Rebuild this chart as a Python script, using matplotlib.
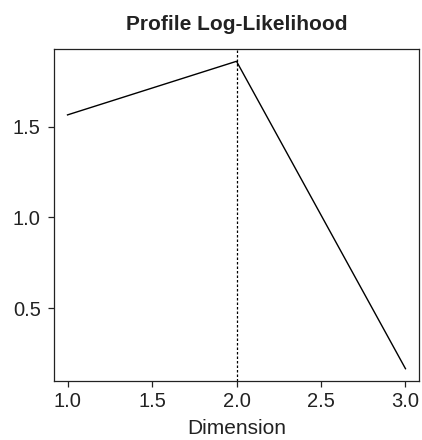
import matplotlib
matplotlib.use("Agg")
import matplotlib.pyplot as plt

# Profile log-likelihood by dimension
dimension = [1.0, 2.0, 3.0]
loglik = [1.564, 1.859, 0.167]
best_dim = 2.0

x_ticks = [1.0, 1.5, 2.0, 2.5, 3.0]
y_ticks = [0.5, 1.0, 1.5]

plt.rcParams['font.family'] = ['Liberation Sans', 'DejaVu Sans']

fig = plt.figure(figsize=(4.22, 4.40), dpi=100)
ax = fig.add_axes([54 / 422, 1 - 381 / 440, (419 - 54) / 422, (381 - 49) / 440])

ax.plot(dimension, loglik, color='black', linewidth=1.0)
ax.axvline(best_dim, color='black', linewidth=0.9, linestyle=(0, (2, 1.6)))

def padded(lo, hi, frac=0.04):
    span = hi - lo
    return lo - frac * span, hi + frac * span

ax.set_xlim(*padded(min(dimension), max(dimension)))
ax.set_ylim(*padded(min(loglik), max(loglik)))

ax.set_xticks(x_ticks)
ax.set_xticklabels([f"{v:.1f}" for v in x_ticks])
ax.set_yticks(y_ticks)
ax.set_yticklabels([f"{v:.1f}" for v in y_ticks])
ax.tick_params(direction='out', length=4.5, width=0.9, labelsize=14.5,
               colors='#222222', pad=5)
ax.tick_params(axis='x', pad=3.5)
for s in ax.spines.values():
    s.set_linewidth(0.9)
    s.set_color('#222222')

ax.set_xlabel("Dimension", fontsize=15, labelpad=6, color='#222222')
ax.set_title("Profile Log-Likelihood", fontsize=15, fontweight='bold', pad=14,
             color='#222222')

fig.savefig("out.png", dpi=100)
